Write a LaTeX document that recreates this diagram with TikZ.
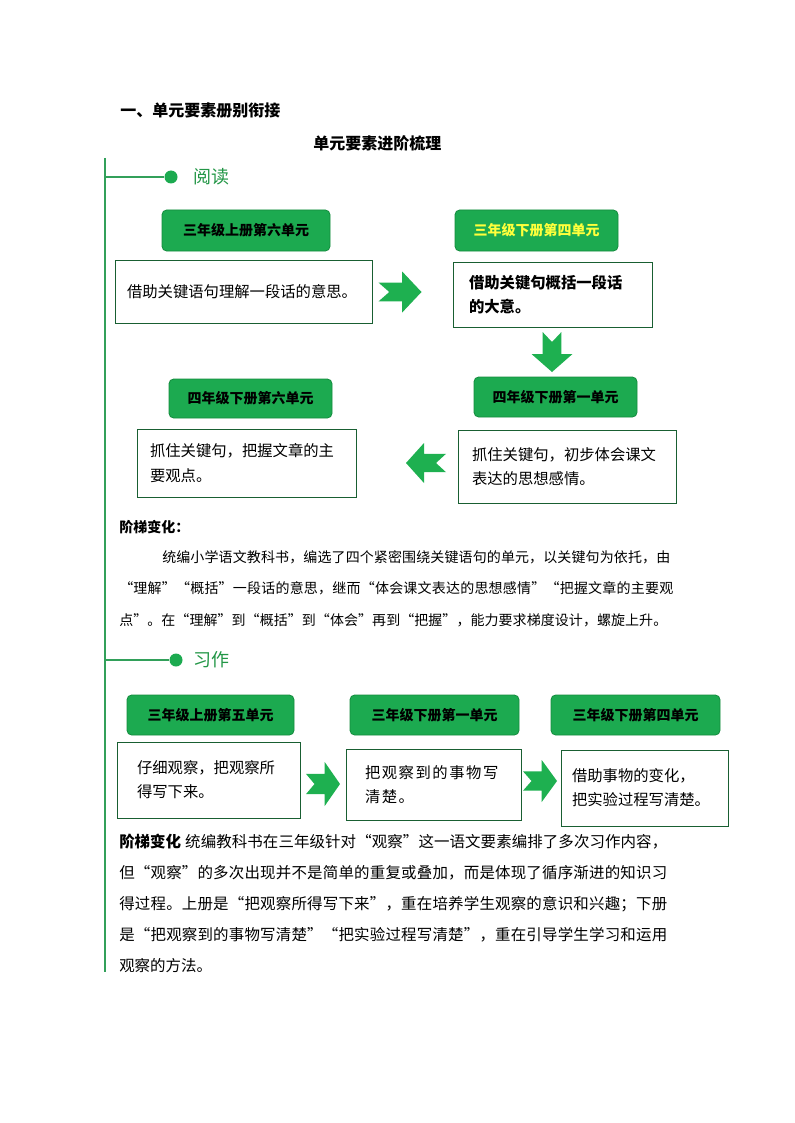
\documentclass[tikz,border=0pt]{standalone}
\usepackage{fontspec}
\setmainfont{Noto Sans CJK SC}
\definecolor{gfill}{RGB}{28,170,80}
\definecolor{gdraw}{RGB}{20,140,62}
\definecolor{wdraw}{RGB}{25,95,50}
\definecolor{gline}{RGB}{50,160,90}
\definecolor{gtext}{RGB}{34,150,70}
\definecolor{agreen}{RGB}{30,176,80}
\definecolor{ylw}{RGB}{255,255,60}
\makeatletter
\let\sprd@end\relax
\def\sprd#1{\sprd@#1\sprd@end}
\def\sprd@#1{\ifx#1\sprd@end\unskip\else#1\hskip0pt plus 1fil\relax\expandafter\sprd@\fi}
\makeatother
\tikzset{
  gbox/.style={draw=gdraw, fill=gfill, line width=0.6pt, rounded corners=3.5pt,
    font=\bfseries\fontsize{10.5pt}{12pt}\selectfont},
  wbox/.style={draw=wdraw, fill=white, line width=0.75pt, align=left, inner ysep=0pt},
  boxfont/.style={font=\fontsize{11.5pt}{17.5pt}\selectfont},
  ptext/.style={anchor=west, inner sep=0pt},
}
\newcommand\gbox[6]{%
  \pgfmathsetmacro\bw{(#4-#2)*0.75}\pgfmathsetmacro\bh{(#5-#3)*0.75}%
  \node[gbox, minimum width=\bw pt, minimum height=\bh pt] (#1) at ({(#2+#4)/2},{(#3+#5)/2}) {#6};}
\newcommand\wbox[8]{%
  \pgfmathsetmacro\bw{(#4-#2)*0.75}\pgfmathsetmacro\bh{(#5-#3)*0.75}%
  \pgfmathsetmacro\tw{(#4-#2-2*#6)*0.75}\pgfmathsetmacro\ix{#6*0.75}%
  \node[wbox, minimum width=\bw pt, minimum height=\bh pt, text width=\tw pt, inner xsep=\ix pt, font=#7] (#1) at ({(#2+#4)/2},{(#3+#5)/2}) {#8};}
\newcommand\chev[5]{%
  \begin{scope}[shift={(#1,#2)},rotate=#5]
  \fill[agreen] ({-#3/2},{-0.23*#4}) -- ({0.05*#3},{-0.23*#4}) -- ({0.05*#3},{-#4/2}) -- ({#3/2},0)
    -- ({0.05*#3},{#4/2}) -- ({0.05*#3},{0.23*#4}) -- ({-#3/2},{0.23*#4}) -- ({-0.25*#3},0) -- cycle;
  \end{scope}}
\begin{document}
\begin{tikzpicture}[x=0.75pt,y=-0.75pt]
\useasboundingbox (0,0) rectangle (794,1123);
\fill[white] (0,0) rectangle (794,1123);
% titles
\node[ptext, font=\bfseries\fontsize{12pt}{14pt}\selectfont] (t1) at (120,111) {一、单元要素册别衔接};
\node[ptext, font=\bfseries\fontsize{12pt}{14pt}\selectfont] (t2) at (313,143) {单元要素进阶梳理};
% timeline
\coordinate (vtop) at (105,158);
\coordinate (vbot) at (105,972);
\draw[gline, line width=1.5pt] (vtop) -- (vbot);
\coordinate (b1) at (105,177);
\node[circle, fill=gfill, minimum size=9.75pt, inner sep=0pt] (d1) at (171,177) {};
\draw[gline, line width=1.1pt] (b1) -- (d1);
\node[ptext, text=gtext, font=\fontsize{13.5pt}{16pt}\selectfont] (s1) at (193,177) {阅读};
\coordinate (b2) at (105,660);
\node[circle, fill=gfill, minimum size=9.75pt, inner sep=0pt] (d2) at (176,660) {};
\draw[gline, line width=1.1pt] (b2) -- (d2);
\node[ptext, text=gtext, font=\fontsize{13.5pt}{16pt}\selectfont] (s2) at (193,660) {习作};
% reading section
\gbox{gA}{162}{210}{330}{251}{三年级上册第六单元}
\gbox{gB}{455}{210}{618}{251}{\textcolor{ylw}{三年级下册第四单元}}
\gbox{gC}{474}{377}{637}{417}{四年级下册第一单元}
\gbox{gD}{169}{379}{332}{418}{四年级下册第六单元}
\wbox{wA}{115}{260}{372}{323}{12}{\fontsize{11.5pt}{17.5pt}\selectfont}{借助关键语句理解一段话的意思。}
\wbox{wB}{453}{262}{652}{327}{16}{\bfseries\fontsize{11.5pt}{17.5pt}\selectfont}{借助关键句概括一段话\\的大意。}
\wbox{wC}{458}{430}{676}{503}{14}{\fontsize{11.5pt}{17.5pt}\selectfont}{抓住关键句，初步体会课文\\表达的思想感情。}
\wbox{wD}{137}{429}{356}{497}{13}{\fontsize{11.5pt}{19pt}\selectfont}{抓住关键句，把握文章的主\\要观点。}
\chev{400}{292}{43}{41}{0}
\chev{552}{352}{40}{41}{-90}
\chev{426}{463}{40}{40}{180}
% reading paragraph
\node[ptext, font=\bfseries\fontsize{10.5pt}{12pt}\selectfont] (p1h) at (119,527) {阶梯变化：};
\node[ptext, font=\fontsize{10.5pt}{12pt}\selectfont] (p1a) at (162,557) {\hbox to 381pt{\sprd{统编小学语文教科书，编选了四个紧密围绕关键语句的单元，以关键句为依托，由}}};
\node[ptext, font=\fontsize{10.5pt}{12pt}\selectfont] (p1b) at (119,588) {\hbox to 415.5pt{\sprd{“理解”“概括”一段话的意思，继而“体会课文表达的思想感情”“把握文章的主要观}}};
\node[ptext, font=\fontsize{10.5pt}{12pt}\selectfont] (p1c) at (119,620) {\hbox to 411pt{\sprd{点”。在“理解”到“概括”到“体会”再到“把握”，能力要求梯度设计，螺旋上升。}}};
% writing section
\gbox{gE}{127}{695}{294}{735}{三年级上册第五单元}
\gbox{gF}{350}{695}{519}{735}{三年级下册第一单元}
\gbox{gG}{551}{695}{720}{735}{三年级下册第四单元}
\wbox{wE}{117}{742}{300}{818}{20}{\fontsize{11.5pt}{18pt}\selectfont}{仔细观察，把观察所\\得写下来。}
\wbox{wF}{346}{749}{521}{820}{19}{\fontsize{11.5pt}{18pt}\selectfont\addfontfeature{LetterSpace=10}}{把观察到的事物写\\清楚。}
\wbox{wG}{561}{750}{728}{826}{11}{\fontsize{11.5pt}{18pt}\selectfont}{借助事物的变化，\\把实验过程写清楚。}
\chev{323}{784}{34}{44}{0}
\chev{540}{781}{34}{42}{0}
% writing paragraph
\node[ptext, font=\fontsize{11.6pt}{14pt}\selectfont] (p2a) at (119,842) {\hbox to 411pt{{\bfseries 阶梯变化}\hskip 3pt plus 1fil\sprd{统编教科书在三年级针对“观察”这一语文要素编排了多次习作内容，}}};
\node[ptext, font=\fontsize{11.6pt}{14pt}\selectfont] (p2b) at (119,873) {\hbox to 411pt{\sprd{但“观察”的多次出现并不是简单的重复或叠加，而是体现了循序渐进的知识习}}};
\node[ptext, font=\fontsize{11.6pt}{14pt}\selectfont] (p2c) at (119,904) {\hbox to 411pt{\sprd{得过程。上册是“把观察所得写下来”，重在培养学生观察的意识和兴趣；下册}}};
\node[ptext, font=\fontsize{11.6pt}{14pt}\selectfont] (p2d) at (119,935) {\hbox to 411pt{\sprd{是“把观察到的事物写清楚”“把实验过程写清楚”，重在引导学生学习和运用}}};
\node[ptext, font=\fontsize{11.6pt}{14pt}\selectfont] (p2e) at (119,966) {观察的方法。};
\end{tikzpicture}
\end{document}
